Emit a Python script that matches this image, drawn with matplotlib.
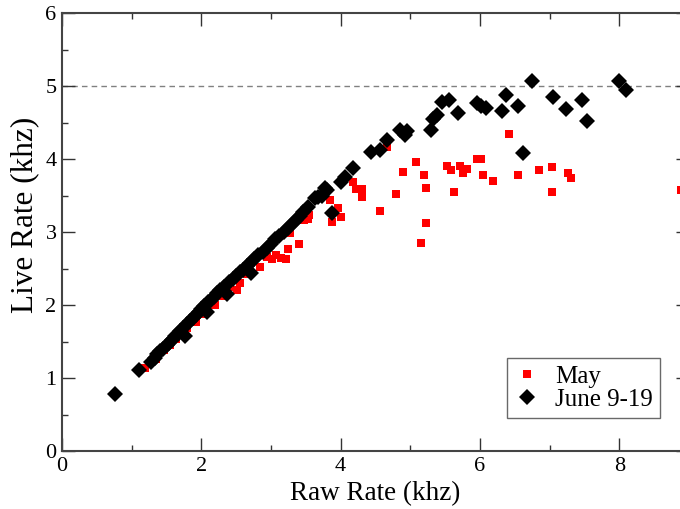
import matplotlib
matplotlib.use("Agg")
import matplotlib.pyplot as plt
from matplotlib.ticker import MultipleLocator

plt.rcParams['font.family'] = ['Liberation Serif', 'DejaVu Serif']

# May (red squares)
may_x = [1.19, 1.27, 1.35, 1.46, 1.55, 1.63, 1.72, 1.80, 1.93, 2.02, 2.10, 2.19, 2.30, 2.40,
         2.51, 2.55, 2.65, 2.84, 2.94, 3.01, 3.07, 3.15, 3.22, 3.25, 3.27, 3.40, 3.48, 3.53,
         3.55, 3.84, 3.87, 3.96, 4.01, 4.17, 4.22, 4.30, 4.30, 4.56, 4.66, 4.80, 4.89, 5.08,
         5.16, 5.20, 5.23, 5.23, 5.53, 5.58, 5.63, 5.72, 5.75, 5.82, 5.96, 6.02, 6.04, 6.19,
         6.41, 6.55, 6.84, 7.03, 7.04, 7.27, 7.31, 8.89]
may_y = [1.14, 1.20, 1.26, 1.38, 1.45, 1.53, 1.60, 1.68, 1.77, 1.88, 1.95, 2.00, 2.12, 2.25,
         2.20, 2.30, 2.42, 2.52, 2.66, 2.63, 2.68, 2.65, 2.63, 2.77, 2.99, 2.84, 3.16, 3.18,
         3.23, 3.44, 3.14, 3.33, 3.21, 3.68, 3.59, 3.59, 3.48, 3.29, 4.16, 3.52, 3.82, 3.96,
         2.85, 3.78, 3.60, 3.12, 3.90, 3.85, 3.55, 3.90, 3.81, 3.86, 4.00, 4.00, 3.78, 3.70,
         4.34, 3.78, 3.85, 3.89, 3.55, 3.81, 3.74, 3.57]

# June 9-19 (black diamonds)
june_x = [0.76, 1.10, 1.28, 1.33, 1.37, 1.41, 1.45, 1.50, 1.54, 1.58, 1.62, 1.66, 1.70, 1.74,
          1.76, 1.80, 1.84, 1.88, 1.92, 1.96, 2.00, 2.04, 2.08, 2.10, 2.14, 2.18, 2.22, 2.27,
          2.32, 2.37, 2.40, 2.45, 2.50, 2.55, 2.60, 2.65, 2.70, 2.72, 2.76, 2.82, 2.88, 2.94,
          3.00, 3.06, 3.12, 3.18, 3.24, 3.30, 3.36, 3.41, 3.46, 3.53, 3.63, 3.67, 3.73, 3.78,
          3.80, 3.87, 4.01, 4.06, 4.17, 4.44, 4.56, 4.66, 4.85, 4.93, 4.95, 5.29, 5.32, 5.38,
          5.45, 5.55, 5.69, 5.95, 6.02, 6.08, 6.32, 6.38, 6.55, 6.62, 6.75, 7.05, 7.23, 7.47,
          7.53, 7.99, 8.10]
june_y = [0.78, 1.11, 1.22, 1.28, 1.33, 1.37, 1.40, 1.45, 1.48, 1.52, 1.57, 1.60, 1.64, 1.68,
          1.57, 1.74, 1.78, 1.82, 1.86, 1.90, 1.94, 1.98, 1.90, 2.04, 2.07, 2.11, 2.16, 2.20,
          2.25, 2.15, 2.32, 2.36, 2.40, 2.45, 2.48, 2.53, 2.58, 2.44, 2.63, 2.68, 2.73, 2.78,
          2.84, 2.90, 2.95, 3.00, 3.06, 3.11, 3.17, 3.22, 3.27, 3.34, 3.46, 3.48, 3.50, 3.60,
          3.58, 3.26, 3.69, 3.76, 3.88, 4.10, 4.12, 4.26, 4.40, 4.33, 4.38, 4.40, 4.55, 4.60,
          4.78, 4.81, 4.63, 4.77, 4.73, 4.70, 4.66, 4.88, 4.73, 4.08, 5.07, 4.85, 4.68, 4.81,
          4.52, 5.07, 4.95]

ref_level = 5.0

fig = plt.figure(figsize=(6.8, 5.09), dpi=100)
ax = fig.add_axes([62/680, 58/509, (689-62)/680, 438/509])

ax.axhline(ref_level, color='#808080', linestyle=(0, (4, 3)), linewidth=1.0, zorder=1)
ax.plot(may_x, may_y, linestyle='none', marker='s', markersize=5.5, color='red',
        markeredgewidth=0, label='May', zorder=2)
ax.plot(june_x, june_y, linestyle='none', marker='D', markersize=8.5, color='black',
        markeredgewidth=0, label='June 9-19', zorder=3)

ax.set_xlim(0, 9)
ax.set_ylim(0, 6)
ax.xaxis.set_major_locator(MultipleLocator(2))
ax.xaxis.set_minor_locator(MultipleLocator(1))
ax.yaxis.set_major_locator(MultipleLocator(1))
ax.yaxis.set_minor_locator(MultipleLocator(0.5))
ax.tick_params(which='both', direction='in', top=True, right=True, colors='#333333',
               labelcolor='black', labelsize=16, width=1.0)
ax.tick_params(which='major', length=9.5, pad=4)
ax.tick_params(which='minor', length=4.5)
for s in ax.spines.values():
    s.set_color('#444444')
    s.set_linewidth(1.5)

ax.set_xlabel('Raw Rate (khz)', fontsize=19.5)
ax.xaxis.set_label_coords(0.5, -0.068)
ax.set_ylabel('Live Rate (khz)', fontsize=22.5)
ax.yaxis.set_label_coords(-0.036, 0.54)

leg = ax.legend(loc='lower right', bbox_to_anchor=((660-62)/627, (451-418)/438),
                fontsize=18, frameon=True, fancybox=False, borderpad=0.3,
                handlelength=1.0, handletextpad=0.6, labelspacing=0.0, borderaxespad=0)
leg.get_frame().set_edgecolor('#444444')
leg.get_frame().set_linewidth(1.0)

fig.savefig('out.png', dpi=100)
